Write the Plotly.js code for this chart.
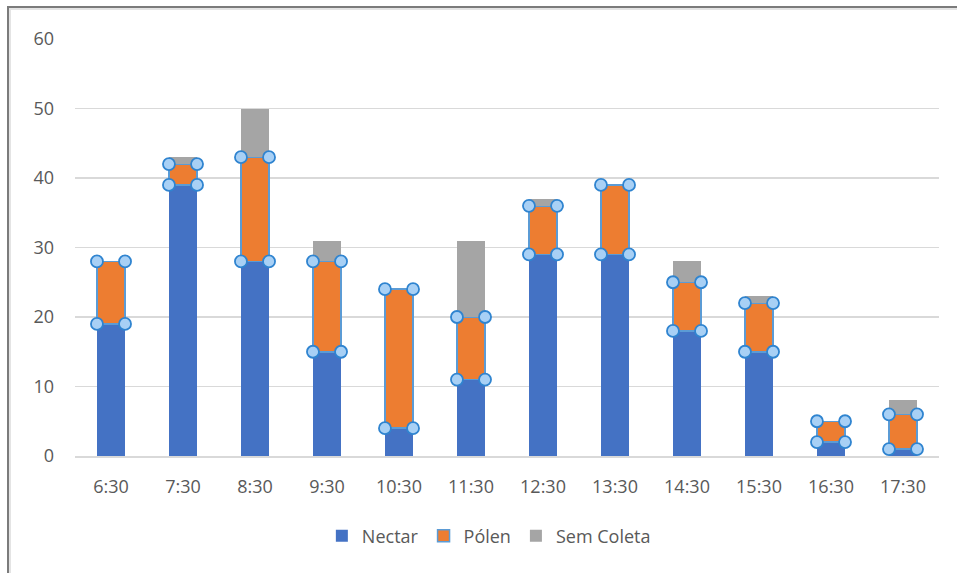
<!DOCTYPE html>
<html>
<head>
<meta charset="utf-8">
<script src="https://cdn.plot.ly/plotly-3.0.1.min.js"></script>
<style>
html,body{margin:0;padding:0;background:#fff;}
#wrap{position:relative;width:957px;height:573px;overflow:hidden;}
#chart{width:957px;height:573px;}
#frame{position:absolute;left:7px;top:6px;width:980px;height:600px;border-left:2px solid #7b7b7b;border-top:2px solid #7b7b7b;box-shadow:inset 2px 2px 0 #e4e4e4;pointer-events:none;}
</style>
</head>
<body>
<div id="wrap"><div id="chart"></div><div id="frame"></div></div>
<script>
var categories = ["6:30","7:30","8:30","9:30","10:30","11:30","12:30","13:30","14:30","15:30","16:30","17:30"];
var nectar    = [19, 39, 28, 15, 4, 11, 29, 29, 18, 15, 2, 1];
var polen     = [9, 3, 15, 13, 20, 9, 7, 10, 7, 7, 3, 5];
var semColeta = [0, 1, 7, 3, 0, 11, 1, 0, 3, 1, 0, 2];
var yTicks = [0, 10, 20, 30, 40, 50, 60];

var idx = categories.map(function(c, i){ return i; });
var half = 0.195;
var hx = [], hy = [];
idx.forEach(function(i){
  var lo = nectar[i], hi = nectar[i] + polen[i];
  hx.push(i - half, i + half, i - half, i + half);
  hy.push(lo, lo, hi, hi);
});

var font = {family: "'Open Sans', 'Noto Sans', sans-serif", size: 18, color: '#595959'};

var data = [
  {type:'bar', name:'Nectar', x: idx, y: nectar, marker:{color:'#4472c4'}, hoverinfo:'y'},
  {type:'bar', name:'Pólen', x: idx, y: polen, marker:{color:'#ed7d31', line:{color:'#5b9bd5', width:1.5}}, hoverinfo:'y'},
  {type:'bar', name:'Sem Coleta', x: idx, y: semColeta, marker:{color:'#a5a5a5'}, hoverinfo:'y'},
  {type:'scatter', mode:'markers', x: hx, y: hy, showlegend:false, hoverinfo:'skip', cliponaxis:false,
   marker:{symbol:'circle', size:12, color:'#a8d0f5', line:{color:'#2f84d0', width:1.8}}}
];

var layout = {
  width: 957, height: 573,
  margin: {l:75, r:18, t:39, b:117},
  paper_bgcolor: 'rgba(0,0,0,0)', plot_bgcolor: '#fff',
  barmode: 'stack', bargap: 0.61,
  font: font,
  showlegend: true,
  legend: {orientation:'h', x:0.479, xanchor:'center', y:-0.192, yanchor:'middle',
           font: font, itemwidth: 30, traceorder:'normal'},
  xaxis: {type:'linear', range:[-0.5, 11.5], tickvals: idx, ticktext: categories,
          showgrid:false, zeroline:false, showline:true, linecolor:'#d9d9d9', linewidth:1.5,
          ticks:'', ticklabelstandoff: 14, tickfont: font, fixedrange:true},
  yaxis: {range:[0, 60], tickvals: yTicks, showgrid:true, gridcolor:'#d9d9d9', gridwidth:1.5,
          zeroline:false, showline:false, ticks:'', ticklabelstandoff: 20, tickfont: font, fixedrange:true}
};

Plotly.newPlot('chart', data, layout, {displayModeBar:false, staticPlot:true});
</script>
</body>
</html>
